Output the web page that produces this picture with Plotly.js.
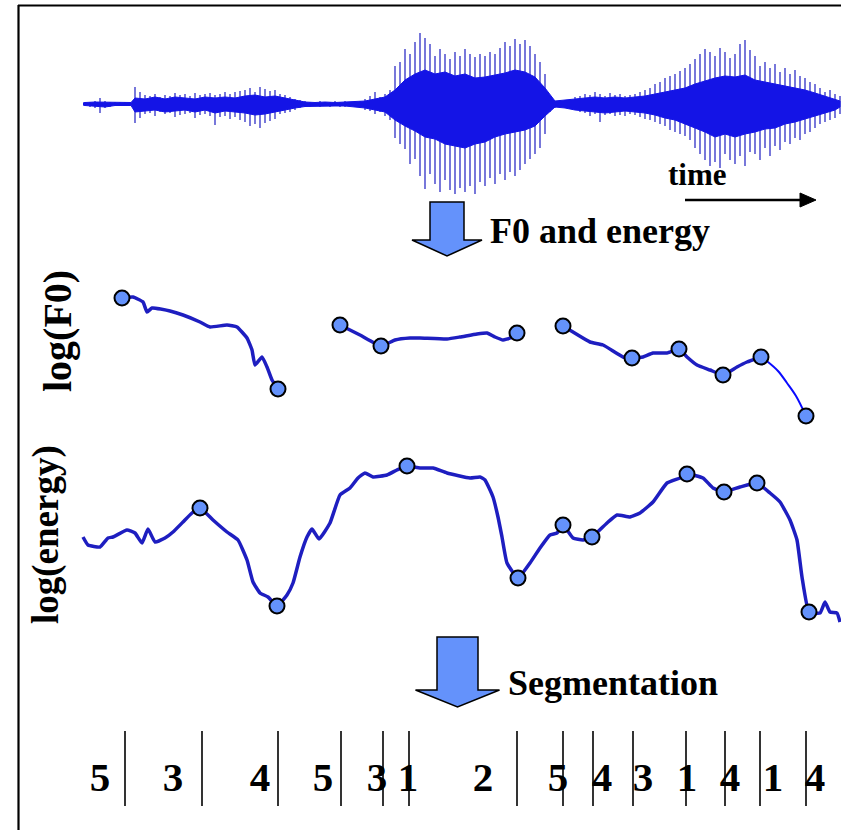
<!DOCTYPE html>
<html>
<head>
<meta charset="utf-8">
<script src="https://cdn.plot.ly/plotly-3.0.1.min.js"></script>
<style>html,body{margin:0;padding:0;background:#fff;}#chart{width:841px;height:830px;}</style>
</head>
<body>
<div id="chart"></div>
<script>
// ---------- DATA ----------
// speech waveform: peak amplitudes (up / down)
const waveX = [85,90,95,100,105,110,115,120,125,130,
  135,
  140,145,150,155,160,165,170,175,180,185,190,195,200,205,210,215,220,225,230,235,240,
  245,250,255,260,265,270,275,
  280,285,290,295,300,305,310,
  315,320,325,330,335,340,345,350,355,360,
  365,370,375,380,385,390,
  395,400,405,410,415,420,425,430,435,440,445,450,455,460,465,470,475,480,485,490,495,500,505,510,515,520,525,530,535,540,545,550,555,
  560,565,570,575,580,585,590,595,600,605,610,615,620,625,630,635,640,
  645,650,655,660,665,670,675,680,685,690,695,700,705,710,715,720,725,730,735,740,745,750,755,760,765,770,775,780,785,790,795,800,805,810,815,820,825,830,835,840];
const waveTop = [2,2,3,6,3,2,2,2,2,2,
  17,
  12,9,8,10,7,9,8,11,9,10,8,11,9,10,11,9,10,12,10,12,13,
  14,16,12,17,15,13,14,
  10,9,7,5,4,3,2,
  2,3,2,2,3,2,3,2,3,3,
  5,8,12,7,10,14,
  38,42,55,50,62,71,66,60,48,55,50,45,52,48,55,50,47,50,48,52,50,56,62,58,65,60,64,58,50,42,30,8,3,
  3,4,5,7,8,10,9,12,10,8,11,9,10,8,9,10,12,
  14,16,20,22,26,28,30,33,36,40,45,50,55,52,48,56,52,46,50,60,64,54,48,38,42,36,40,32,36,30,34,28,26,22,20,16,12,14,10,8];
const waveBot = [-2,-3,-4,-9,-4,-3,-2,-2,-2,-2,
  -19,
  -14,-10,-9,-12,-8,-10,-9,-13,-11,-10,-9,-14,-11,-10,-12,-21,-13,-12,-15,-13,-16,
  -18,-22,-20,-24,-19,-17,-15,
  -10,-9,-8,-6,-4,-3,-3,
  -2,-3,-2,-3,-2,-3,-3,-2,-3,-4,
  -6,-7,-10,-8,-12,-16,
  -34,-40,-45,-60,-55,-72,-85,-70,-80,-88,-76,-86,-90,-84,-88,-82,-90,-78,-82,-74,-80,-70,-76,-68,-72,-66,-60,-55,-50,-44,-30,-8,-4,
  -3,-4,-5,-6,-8,-9,-12,-10,-18,-11,-10,-12,-11,-12,-10,-11,-13,
  -15,-16,-18,-20,-22,-26,-28,-30,-32,-36,-44,-50,-56,-62,-58,-64,-50,-56,-60,-52,-62,-48,-50,-56,-44,-52,-42,-46,-38,-40,-34,-36,-30,-28,-24,-20,-18,-16,-14,-10];
// dense core of the waveform
const coreX   = [83,85,95,105,115,125,131,135,145,155,165,175,185,195,205,215,225,235,245,255,265,275,285,295,305,315,325,335,345,355,365,375,385,395,405,415,425,435,445,455,465,475,485,495,505,515,525,535,545,555,565,575,585,595,605,615,625,635,645,655,665,675,685,695,705,715,725,735,745,755,765,775,785,795,805,815,825,835,840];
const coreTop = [1,1.5,2,2,1.5,1.5,1.5,6,5,7,5,7,6,5,7,6,7,6,8,9,7,8,6,4,2,1.5,2,1.5,2,2,3,5,7,14,24,30,34,30,32,28,30,26,27,29,31,34,32,27,16,3,4,5,6,7,6,7,6,7,8,10,12,14,16,20,23,26,28,27,29,24,22,20,18,16,14,11,8,5,3];
const coreBot = [-1,-1.5,-2.5,-3,-1.5,-1.5,-1.5,-8,-7,-6,-8,-7,-6,-8,-6,-9,-7,-8,-9,-11,-10,-8,-6,-4,-2.5,-2,-2,-2,-2,-3,-4,-6,-8,-16,-22,-27,-33,-35,-40,-42,-44,-40,-38,-33,-30,-28,-26,-22,-12,-3,-4,-6,-7,-8,-9,-8,-7,-8,-9,-11,-14,-16,-20,-24,-28,-33,-30,-33,-30,-28,-25,-24,-20,-18,-15,-12,-9,-6,-3];

// log(F0) contour segments
const f0X1 = [122,133,143,147,152,170,183,200,210,227,237,247,252,255,262,267,272,278];
const f0Y1 = [132,133,128,118,122,119,115,108,103,105,103,92,80,65,73,63,50,41];
const f0X2 = [340,360,381,395,410,420,447,460,477,487,495,503,510,517];
const f0Y2 = [105,95,84,90,92,92,91,93,96,97,93,90,92,97];
const f0X3 = [563,573,590,603,623,632,643,653,667,679,687,697,710,723,737,747,761];
const f0Y3 = [104,98,88,85,73,72,73,77,77,81,73,65,60,55,63,68,73];
const f0X4 = [761,768,778,787,796,806];   // extrapolated tail
const f0Y4 = [73,68,59,47,34,14];
const f0PtsX = [122,278,340,381,517,563,632,679,723,761,806];
const f0PtsY = [132,41,105,84,97,104,72,81,55,73,14];

// log(energy) contour
const enX = [83,88,100,108,113,127,135,142,148,155,165,173,183,192,200,213,227,238,247,253,260,268,277,287,293,300,307,312,319,330,340,350,358,365,373,387,397,407,420,433,447,470,480,485,493,498,502,507,518,530,540,550,557,563,573,583,592,607,617,630,640,653,667,680,687,703,713,724,740,757,770,780,790,797,802,809,820,825,830,837,840];
const enY = [103,95,93,102,103,110,107,97,111,98,102,108,118,127,132,120,108,100,80,58,47,43,34,45,57,83,103,111,101,117,145,152,162,167,163,165,170,174,172,172,167,162,163,160,143,123,103,77,62,77,92,105,107,115,102,100,103,117,125,123,127,138,157,162,166,162,152,148,153,157,147,138,120,100,63,28,27,38,28,27,18];
const enPtsX = [200,277,407,518,563,592,687,724,757,809];
const enPtsY = [132,34,174,62,115,103,166,148,157,28];

// segmentation
const segBounds = [125,202,278,341,383,409,517,563,593,633,686,725,760,806];
const segLabels = ['5','3','4','5','3','1','2','5','4','3','1','4','1','4'];
const segLabelX = [100,173,260,323,377,408,483,558,602,643,687,730,773,815];

// ---------- BUILD ----------
const H = 830;
const P = y => 1 - y / H;               // pixel row -> paper fraction
const SERIF = 'Liberation Serif, Times New Roman, serif';
const LINE = '#1e1ec0';
const DOT = '#6492fb';

const spikeX = [], spikeY = [];
waveX.forEach((x, i) => { spikeX.push(x, x, null); spikeY.push(waveTop[i], waveBot[i], null); });
const vX = [], vY = [];
segBounds.forEach(b => { vX.push(b, b, null); vY.push(731, 806, null); });

const markerStyle = {size: 15, color: DOT, line: {color: '#000', width: 2}};
const curve = {color: LINE, width: 3.5, shape: 'spline', smoothing: 0.4};

const traces = [
  {x: spikeX, y: spikeY, yaxis: 'y', mode: 'lines', line: {color: 'rgba(55,55,200,0.8)', width: 1.7}, hoverinfo: 'skip'},
  {x: coreX.concat(coreX.slice().reverse()), y: coreTop.concat(coreBot.slice().reverse()), yaxis: 'y',
   mode: 'lines', fill: 'toself', fillcolor: '#1414e6', line: {width: 1, color: '#1414e6'}, hoverinfo: 'skip'},
  {x: f0X1, y: f0Y1, yaxis: 'y2', mode: 'lines', line: curve},
  {x: f0X2, y: f0Y2, yaxis: 'y2', mode: 'lines', line: curve},
  {x: f0X3, y: f0Y3, yaxis: 'y2', mode: 'lines', line: curve},
  {x: f0X4, y: f0Y4, yaxis: 'y2', mode: 'lines', line: {color: '#0a0aff', width: 2, shape: 'spline'}},
  {x: f0PtsX, y: f0PtsY, yaxis: 'y2', mode: 'markers', marker: markerStyle},
  {x: enX, y: enY, yaxis: 'y3', mode: 'lines', line: curve},
  {x: enPtsX, y: enPtsY, yaxis: 'y3', mode: 'markers', marker: markerStyle},
  {x: vX, y: vY, yaxis: 'y4', mode: 'lines', line: {color: '#000', width: 1.6}},
  {x: segLabelX, y: segLabelX.map(() => 781), yaxis: 'y4', mode: 'text', text: segLabels,
   textposition: 'middle center', textfont: {family: SERIF, size: 41, color: '#000', weight: 'bold'}}
];

function blockArrow(cx, shaftHalf, headHalf, top, base, tip) {
  const pts = [[cx - shaftHalf, top], [cx + shaftHalf, top], [cx + shaftHalf, base], [cx + headHalf, base],
               [cx, tip], [cx - headHalf, base], [cx - shaftHalf, base]];
  return {type: 'path', xref: 'x', yref: 'paper',
          path: 'M' + pts.map(p => p[0] + ',' + P(p[1])).join(' L') + ' Z',
          fillcolor: DOT, line: {color: '#000', width: 1.5}};
}

const shapes = [
  {type: 'line', xref: 'x', yref: 'paper', x0: 18, x1: 841, y0: P(5.5), y1: P(5.5), line: {color: '#000', width: 2.2}},
  {type: 'line', xref: 'x', yref: 'paper', x0: 18.5, x1: 18.5, y0: P(5), y1: P(830), line: {color: '#000', width: 2.2}},
  {type: 'line', xref: 'x', yref: 'paper', x0: 685, x1: 802, y0: P(200), y1: P(200), line: {color: '#000', width: 2.5}},
  {type: 'path', xref: 'x', yref: 'paper', path: `M800,${P(193)} L816,${P(200)} L800,${P(207)} Z`, fillcolor: '#000', line: {color: '#000', width: 1}},
  blockArrow(447, 17, 35, 202, 240, 256),
  blockArrow(457.5, 20.5, 42, 637, 690, 707)
];

const ann = (text, x, y, size, extra) => Object.assign({
  text: text, x: x, y: P(y), xref: 'x', yref: 'paper', showarrow: false,
  xanchor: 'center', yanchor: 'middle',
  font: {family: SERIF, size: size, color: '#000', weight: 'bold'}
}, extra || {});

const layout = {
  width: 841, height: 830,
  margin: {l: 0, r: 0, t: 0, b: 0, pad: 0},
  paper_bgcolor: '#fff', plot_bgcolor: 'rgba(0,0,0,0)',
  showlegend: false,
  xaxis: {range: [0, 841], visible: false, fixedrange: true},
  yaxis:  {domain: [P(200), P(20)],  range: [-96, 84], visible: false, fixedrange: true},
  yaxis2: {domain: [P(430), P(280)], range: [0, 150], visible: false, fixedrange: true, anchor: 'x'},
  yaxis3: {domain: [P(640), P(440)], range: [0, 200], visible: false, fixedrange: true, anchor: 'x'},
  yaxis4: {domain: [0, 1], range: [830, 0], visible: false, fixedrange: true, anchor: 'x'},
  shapes: shapes,
  annotations: [
    ann('time', 697, 175, 31),
    ann('F0 and energy', 602, 231, 36, {xanchor: 'left', x: 488}),
    ann('Segmentation', 615, 683, 36, {xanchor: 'left', x: 506}),
    ann('log(F0)', 57, 331, 40, {textangle: -90}),
    ann('log(energy)', 46, 535, 37, {textangle: -90})
  ]
};

Plotly.newPlot('chart', traces, layout, {staticPlot: true, displayModeBar: false});
</script>
</body>
</html>
